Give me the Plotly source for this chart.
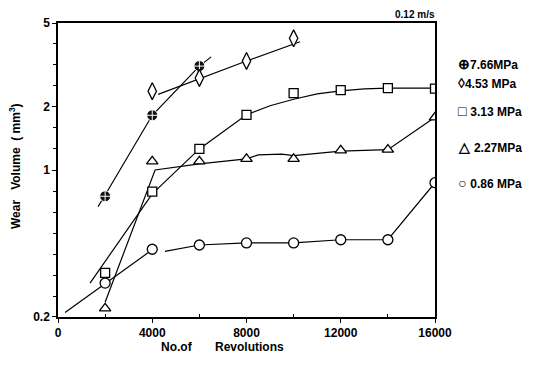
import plotly.graph_objects as go

# ---- data ----
p766_x = [2000, 4000, 6000]
p766_y = [0.75, 1.82, 3.12]
p453_x = [4000, 6000, 8000, 10000]
p453_y = [2.37, 2.74, 3.30, 4.23]
revs = [2000, 4000, 6000, 8000, 10000, 12000, 14000, 16000]
p313_y = [0.324, 0.79, 1.26, 1.83, 2.32, 2.40, 2.45, 2.44]
p227_y = [0.22, 1.10, 1.10, 1.13, 1.13, 1.24, 1.25, 1.78]
p086_y = [0.29, 0.42, 0.44, 0.45, 0.45, 0.466, 0.466, 0.87]

# fitted curves drawn through the points
fit766_x = [1700, 2000, 4000, 6000, 6500]
fit766_y = [0.67, 0.76, 1.82, 3.12, 3.45]
fit453_x = [4250, 6000, 8000, 10270]
fit453_y = [2.29, 2.72, 3.30, 4.07]
fit313_x = [1360, 4000, 6000, 8000, 9000, 10000, 11000, 12000, 13000, 14000, 16000]
fit313_y = [0.29, 0.77, 1.26, 1.83, 2.02, 2.17, 2.30, 2.38, 2.43, 2.45, 2.45]
fit227_x = [2000, 4120, 6000, 8000, 8500, 9500, 10000, 12000, 14000, 16000]
fit227_y = [0.235, 1.0, 1.07, 1.13, 1.18, 1.19, 1.17, 1.23, 1.25, 1.78]
fit086a_x = [300, 3820]
fit086a_y = [0.21, 0.404]
fit086b_x = [4540, 6000, 8000, 10000, 12000, 14000, 16000]
fit086b_y = [0.41, 0.44, 0.45, 0.45, 0.466, 0.466, 0.87]

legend_glyphs = ["\u2295", "\u25ca", "\u25a1 ", "\u25b3 ", "\u25cb "]
legend_labels = ["7.66MPa", "4.53 MPa", "3.13 MPa", "2.27MPa", "0.86 MPa"]
legend_y = [64, 83, 111, 147, 183]

x_ticks = [0, 4000, 8000, 12000, 16000]
y_ticks = [0.2, 1, 2, 5]
y_ticktext = ["0.2", "1", "2", "5"]
y_minor = [10 ** (k / 10) for k in range(-6, 7)]

W, H = 538, 369
L, R, T, B = 58, 103, 23, 52

FONT = "Liberation Sans"
fig = go.Figure()

line_style = dict(color="black", width=1.2)
for fx, fy in [(fit766_x, fit766_y), (fit453_x, fit453_y), (fit313_x, fit313_y),
               (fit227_x, fit227_y), (fit086a_x, fit086a_y), (fit086b_x, fit086b_y)]:
    fig.add_trace(go.Scatter(x=fx, y=fy, mode="lines", line=line_style,
                             showlegend=False, hoverinfo="skip"))

mk_line = dict(color="black", width=1.3)
fig.add_trace(go.Scatter(x=p766_x, y=p766_y, mode="markers", name="7.66 MPa",
                         marker=dict(symbol="circle-cross", size=11, color="#111",
                                     line=dict(color="white", width=1))))
fig.add_trace(go.Scatter(x=p453_x, y=p453_y, mode="markers", name="4.53 MPa",
                         marker=dict(symbol="diamond-tall", size=12, color="white", line=mk_line)))
fig.add_trace(go.Scatter(x=revs, y=p313_y, mode="markers", name="3.13 MPa",
                         marker=dict(symbol="square", size=9, color="white", line=mk_line)))
fig.add_trace(go.Scatter(x=revs, y=p227_y, mode="markers", name="2.27 MPa",
                         marker=dict(symbol="triangle-up", size=10, color="white", line=mk_line)))
fig.add_trace(go.Scatter(x=revs, y=p086_y, mode="markers", name="0.86 MPa",
                         marker=dict(symbol="circle", size=10, color="white", line=mk_line)))

pw, ph = W - L - R, H - T - B
annotations = []
for g, lab, ly in zip(legend_glyphs, legend_labels, legend_y):
    annotations.append(dict(text="<b><span style='font-size:14px'>" + g + "</span>" + lab + "</b>",
                            xref="paper", yref="paper",
                            x=(456 - L) / pw, y=1 - (ly - T) / ph,
                            xanchor="left", yanchor="middle", showarrow=False,
                            font=dict(family=FONT, size=12, color="black")))
annotations.append(dict(text="<b>0.12 m/s</b>", xref="paper", yref="paper",
                        x=1.005, y=1 + 8 / ph, xanchor="right", yanchor="middle",
                        showarrow=False, font=dict(family=FONT, size=10, color="black")))
annotations.append(dict(text="<b>No.of&nbsp;&nbsp;&nbsp;&nbsp;&nbsp;&nbsp;&nbsp;Revolutions</b>",
                        xref="paper", yref="paper",
                        x=(222 - L) / pw, y=-(347 - (H - B)) / ph,
                        xanchor="center", yanchor="middle", showarrow=False,
                        font=dict(family=FONT, size=12, color="black")))
annotations.append(dict(text="<b>Wear&nbsp;&nbsp;&nbsp;Volume&nbsp;&nbsp;( mm<sup>3</sup>)</b>",
                        xref="paper", yref="paper",
                        x=-(L - 15) / pw, y=1 - (166 - T) / ph,
                        xanchor="center", yanchor="middle", textangle=-90, showarrow=False,
                        font=dict(family=FONT, size=12, color="black")))

fig.update_layout(
    width=W, height=H, margin=dict(l=L, r=R, t=T, b=B),
    paper_bgcolor="white", plot_bgcolor="white", showlegend=False,
    annotations=annotations,
    font=dict(family=FONT, color="black"),
)
fig.update_xaxes(range=[0, 16000], tickvals=x_ticks, ticktext=[str(v) for v in x_ticks],
                 showgrid=False, zeroline=False, showline=True, linecolor="black", linewidth=1.5,
                 mirror=True, ticks="outside", ticklen=4, tickcolor="black",
                 tickfont=dict(family=FONT, size=12, weight="bold"),
                 minor=dict(tickvals=[2000, 6000, 10000, 14000], ticks="inside", ticklen=3,
                            tickcolor="black", showgrid=False))
fig.update_yaxes(type="log", range=[-0.699, 0.699], tickvals=y_ticks, ticktext=y_ticktext,
                 showgrid=False, zeroline=False, showline=True, linecolor="black", linewidth=1.5,
                 mirror=True, ticks="outside", ticklen=4, tickcolor="black",
                 tickfont=dict(family=FONT, size=12, weight="bold"),
                 minor=dict(tickvals=y_minor, ticks="outside", ticklen=3,
                            tickcolor="black", showgrid=False))

fig.write_html("out.html")
